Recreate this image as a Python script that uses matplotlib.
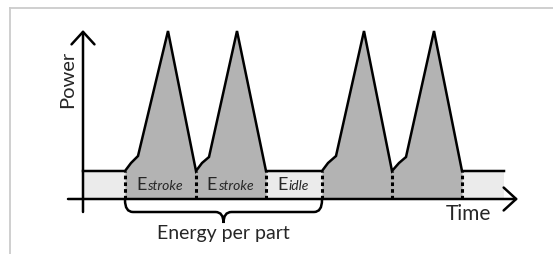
import matplotlib
matplotlib.use("Agg")
import matplotlib.pyplot as plt
from matplotlib.path import Path
from matplotlib.patches import PathPatch
from matplotlib.lines import Line2D

plt.rcParams['font.family'] = ['Lato', 'DejaVu Sans']

# power profile (time, power) - idle level then two strokes, idle, two strokes
time = [0, 42, 48, 55, 85, 113, 119, 126, 154, 183, 239, 245, 253, 281, 309, 316, 323, 351, 379, 421]
power = [28, 28, 36, 43, 168, 28, 36, 42, 168, 28, 28, 36, 43, 168, 28, 36, 42, 168, 28, 28]
idle_level = 28
t_end = 421

# stroke blocks (start, end) and phase boundaries
strokes = [(42, 183), (239, 379)]
bounds = [42, 113, 183, 239, 309, 379]

# labels under the first part
labels = [("E", "stroke", 42, 113), ("E", "stroke", 113, 183), ("E", "idle", 183, 239)]
part = (42, 239)

txt = '#262626'

fig = plt.figure(figsize=(5.53, 2.54), dpi=100)
ax = fig.add_axes([0, 0, 1, 1])
ax.set_xlim(-83, 470)
ax.set_ylim(-55, 199)
ax.axis('off')

# frame lines
fig.add_artist(Line2D([9.5 / 553, 1], [1 - 7.5 / 254, 1 - 7.5 / 254], color='#cccccc', lw=1.3))
fig.add_artist(Line2D([9.5 / 553, 9.5 / 553], [0, 1 - 7.5 / 254], color='#cccccc', lw=1.3))

# idle band
ax.fill_between([0, t_end], 0, idle_level, color='#ebebeb', lw=0, zorder=1)

# stroke areas
for s, e in strokes:
    xs = [t for t in time if s <= t <= e]
    ys = [p for t, p in zip(time, power) if s <= t <= e]
    ax.fill_between(xs, 0, ys, color='#b3b3b3', lw=0, zorder=2)

ax.plot(time, power, color='black', lw=1.8, solid_joinstyle='miter', zorder=4)

for b in bounds:
    ax.plot([b, b], [0, idle_level], color='black', lw=2.2, ls=(0, (1.2, 1.0)), zorder=3)

# axes with arrows
arrow = dict(arrowstyle='->,head_length=0.6,head_width=0.55', lw=1.8, color='black',
             shrinkA=0, shrinkB=0, mutation_scale=15)
ax.annotate('', xy=(0, 169), xytext=(0, -13), arrowprops=arrow, zorder=5)
ax.annotate('', xy=(435, 0), xytext=(-15, 0), arrowprops=arrow, zorder=5)

ax.text(-15, 120, 'Power', rotation=90, ha='center', va='center', fontsize=14.5, color=txt)
ax.text(385, -15, 'Time', ha='center', va='center', fontsize=15, color=txt)

# E labels
for main, sub, s, e in labels:
    c = (s + e) / 2
    off = -14 if sub == 'stroke' else -6
    ax.annotate(main, xy=(c, 14), xytext=(off, 0), textcoords='offset pixels',
                ha='right', va='center', fontsize=13, color=txt, zorder=6)
    ax.annotate(sub, xy=(c, 14), xytext=(off + 1, -1.5), textcoords='offset pixels',
                ha='left', va='center', fontsize=10, style='italic', color=txt, zorder=6)

# curly brace below the first part
s, e = part
m = (s + e) / 2
y0, y1, y2 = -1, -13, -24
verts = [(s, y0), (s, y1), (s + 8, y1),
         (m - 8, y1), (m, y1), (m, y2),
         (m, y1), (m + 8, y1),
         (e - 8, y1), (e, y1), (e, y0)]
codes = [Path.MOVETO, Path.CURVE3, Path.CURVE3,
         Path.LINETO, Path.CURVE3, Path.CURVE3,
         Path.CURVE3, Path.CURVE3,
         Path.LINETO, Path.CURVE3, Path.CURVE3]
ax.add_patch(PathPatch(Path(verts, codes), fill=False, lw=1.8, color='black'))
ax.text(m, -35, 'Energy per part', ha='center', va='center', fontsize=14, color=txt)

fig.savefig('out.png', dpi=100)
